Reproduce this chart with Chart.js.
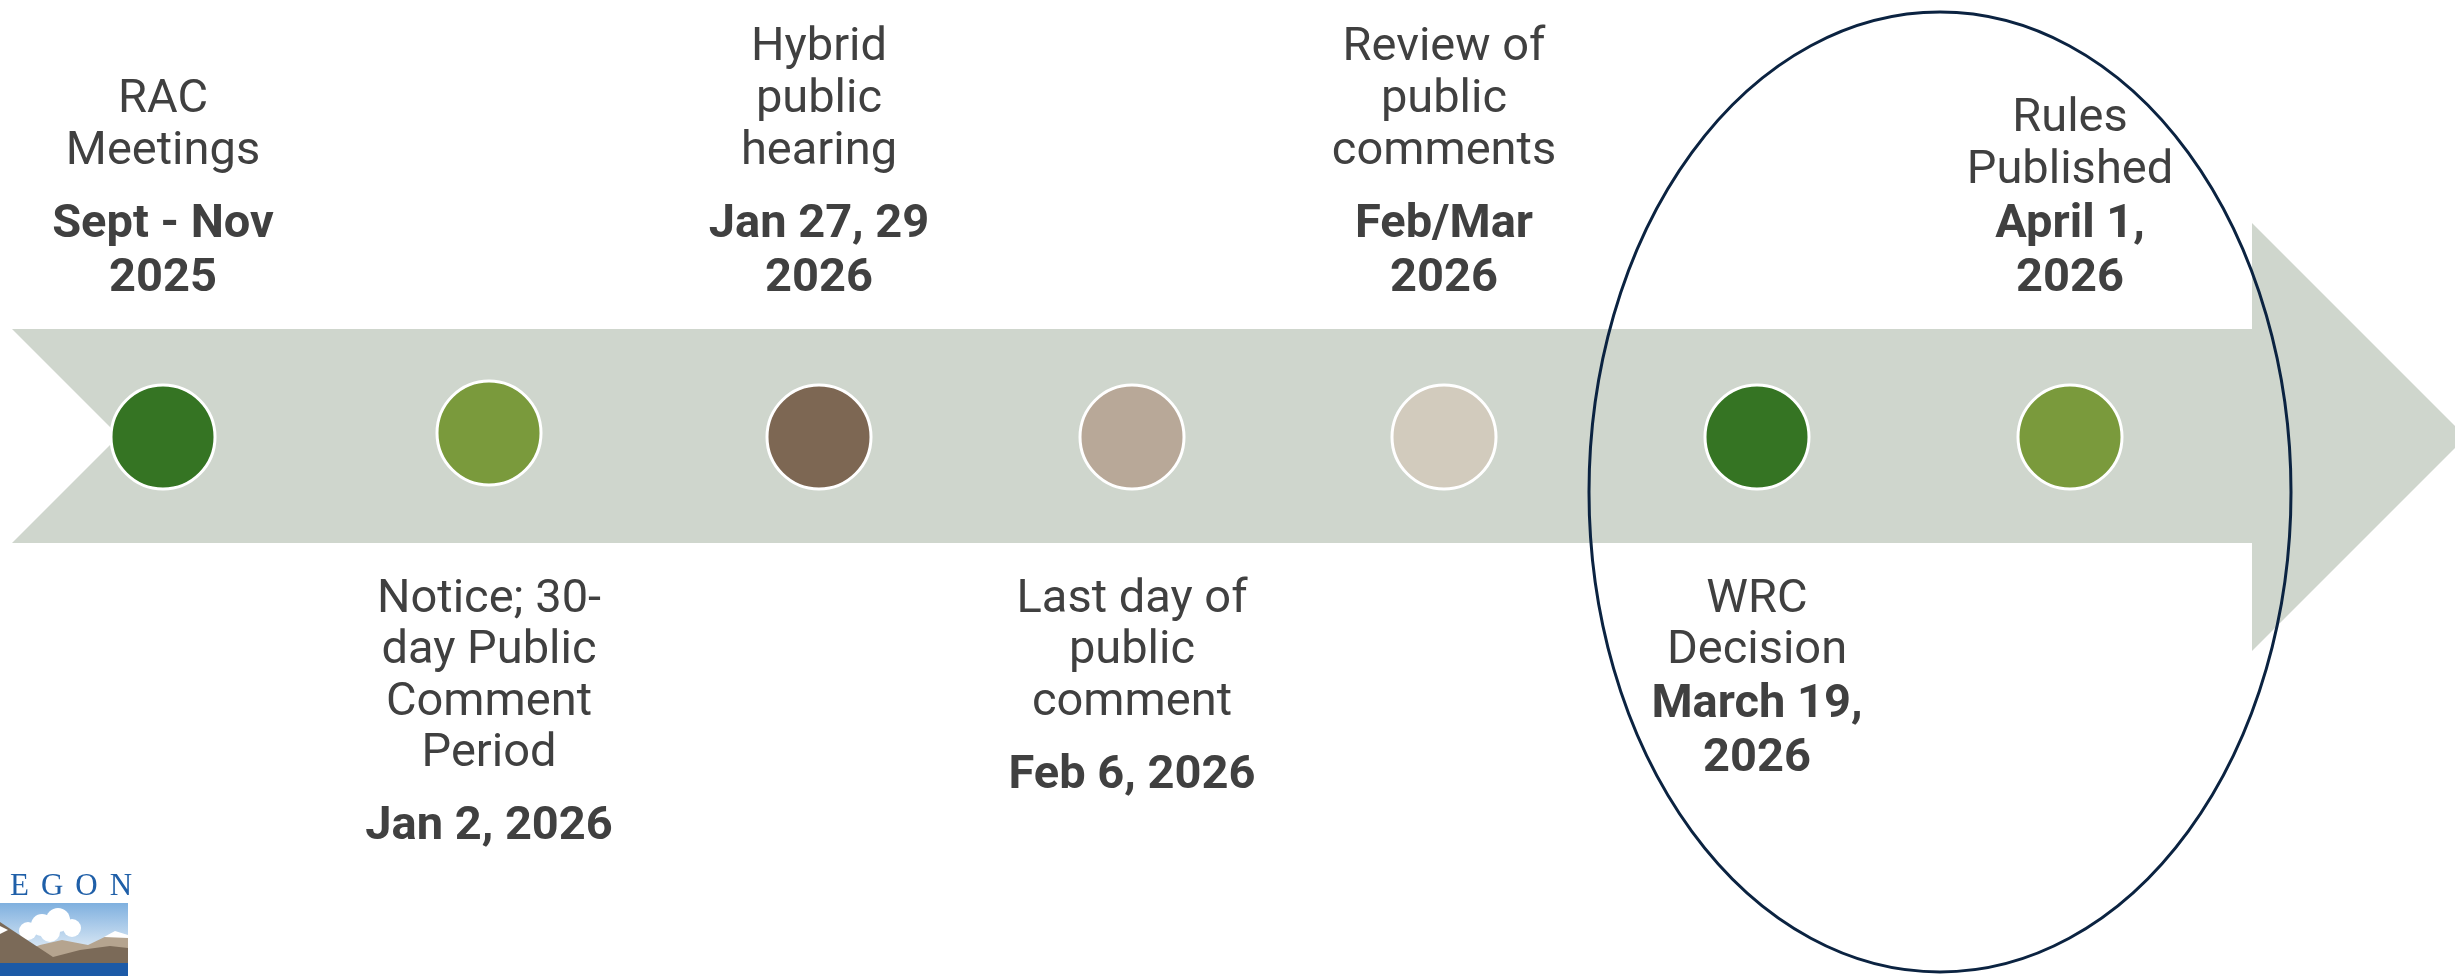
<!DOCTYPE html>
<html>
<head>
<meta charset="utf-8">
<title>Rulemaking timeline</title>
<script src="https://cdn.jsdelivr.net/npm/chart.js@4.4.1/dist/chart.umd.min.js"></script>
<style>
  html, body { margin: 0; padding: 0; background: #fff; overflow: hidden; }
  canvas { display: block; }
</style>
</head>
<body>
<canvas id="timeline" width="2455" height="976"></canvas>
<script>
// milestones, left to right along the arrow
const titles = [
    ['RAC', 'Meetings'],
    ['Notice; 30-', 'day Public', 'Comment', 'Period'],
    ['Hybrid', 'public', 'hearing'],
    ['Last day of', 'public', 'comment'],
    ['Review of', 'public', 'comments'],
    ['WRC', 'Decision'],
    ['Rules', 'Published']
];
const dates = [
    ['Sept - Nov', '2025'],
    ['Jan 2, 2026'],
    ['Jan 27, 29', '2026'],
    ['Feb 6, 2026'],
    ['Feb/Mar', '2026'],
    ['March 19,', '2026'],
    ['April 1,', '2026']
];
const sides = ['top', 'bottom', 'top', 'bottom', 'top', 'bottom', 'top'];
const stepX = [163, 489, 819, 1132, 1444, 1757, 2070];
const stepY = [437, 433, 437, 437, 437, 437, 437];
const dotColors = ['#357423', '#7a9a3c', '#7d6753', '#b8a898', '#d2cbbd', '#357423', '#7a9a3c'];

// arrow outline
const arrowX = [12, 2252, 2252, 2466, 2252, 2252, 12, 119];
const arrowY = [329, 329, 223, 437, 651, 543, 543, 436];

// steps inside the ellipse sit tighter against their date
const tight = [false, false, false, false, false, true, true];
const W = 2455, H = 976;
const LINE_H = 52;
const TEXT = '#404040';
const FONT = 'Roboto, "Liberation Sans", sans-serif';

const labelsPlugin = {
    id: 'labels',
    afterDatasetsDraw(chart) {
        const ctx = chart.ctx;
        const x = chart.scales.x, y = chart.scales.y;
        ctx.save();
        ctx.fillStyle = TEXT;
        ctx.textAlign = 'center';
        ctx.textBaseline = 'middle';
        stepX.forEach((sx, i) => {
            const px = x.getPixelForValue(sx);
            const gap = tight[i] ? 54 : 73;
            let titleYs = [], dateYs = [];
            if (sides[i] === 'top') {
                dates[i].forEach((d, k) => dateYs.push(225 + k * 54));
                const last = 225 - gap;
                titles[i].forEach((t, k) => titleYs.push(last - (titles[i].length - 1 - k) * LINE_H));
            } else {
                titles[i].forEach((t, k) => titleYs.push(600 + k * 51.5));
                const first = titleYs[titleYs.length - 1] + gap;
                dates[i].forEach((d, k) => dateYs.push(first + k * 54));
            }
            ctx.font = '47px ' + FONT;
            titles[i].forEach((t, k) => ctx.fillText(t, px, y.getPixelForValue(titleYs[k])));
            ctx.font = 'bold 47px ' + FONT;
            dates[i].forEach((d, k) => ctx.fillText(d, px, y.getPixelForValue(dateYs[k])));
        });
        ctx.restore();
    }
};

// navy ellipse around the last two steps
const ellipsePlugin = {
    id: 'ellipse',
    afterDatasetsDraw(chart) {
        const ctx = chart.ctx;
        const x = chart.scales.x, y = chart.scales.y;
        const cx = x.getPixelForValue(1940), cy = y.getPixelForValue(492);
        const rx = x.getPixelForValue(1940 + 351) - cx;
        const ry = y.getPixelForValue(492 + 480) - cy;
        ctx.save();
        ctx.strokeStyle = '#0b2341';
        ctx.lineWidth = 3;
        ctx.beginPath();
        ctx.ellipse(cx, cy, Math.abs(rx), Math.abs(ry), 0, 0, Math.PI * 2);
        ctx.stroke();
        ctx.restore();
    }
};

// cropped state logo, bottom left
const logoPlugin = {
    id: 'logo',
    afterDraw(chart) {
        const ctx = chart.ctx;
        ctx.save();
        // picture box
        ctx.beginPath();
        ctx.rect(0, 903, 128, 73);
        ctx.clip();
        const sky = ctx.createLinearGradient(0, 903, 0, 950);
        sky.addColorStop(0, '#7fb0df');
        sky.addColorStop(1, '#dce9f5');
        ctx.fillStyle = sky;
        ctx.fillRect(0, 903, 128, 73);
        ctx.fillStyle = '#ffffff';
        [[28, 931, 9], [42, 925, 11], [58, 920, 12], [72, 928, 9], [50, 932, 10]].forEach(c => {
            ctx.beginPath();
            ctx.arc(c[0], c[1], c[2], 0, Math.PI * 2);
            ctx.fill();
        });
        ctx.fillStyle = '#b5a48f';
        ctx.beginPath();
        ctx.moveTo(0, 960); ctx.lineTo(40, 945); ctx.lineTo(62, 940); ctx.lineTo(88, 945);
        ctx.lineTo(115, 932); ctx.lineTo(128, 936); ctx.lineTo(128, 963); ctx.lineTo(0, 963);
        ctx.closePath(); ctx.fill();
        ctx.fillStyle = '#ffffff';
        ctx.beginPath();
        ctx.moveTo(104, 937); ctx.lineTo(115, 931); ctx.lineTo(128, 935); ctx.lineTo(128, 938);
        ctx.closePath(); ctx.fill();
        ctx.fillStyle = '#7b6a58';
        ctx.beginPath();
        ctx.moveTo(0, 922); ctx.lineTo(12, 930); ctx.lineTo(53, 957); ctx.lineTo(80, 950);
        ctx.lineTo(110, 946); ctx.lineTo(128, 948); ctx.lineTo(128, 963); ctx.lineTo(0, 963);
        ctx.closePath(); ctx.fill();
        ctx.fillStyle = '#ffffff';
        ctx.beginPath();
        ctx.moveTo(0, 926); ctx.lineTo(8, 930); ctx.lineTo(0, 934);
        ctx.closePath(); ctx.fill();
        ctx.fillStyle = '#1c5aa7';
        ctx.fillRect(0, 963, 128, 13);
        ctx.restore();

        ctx.save();
        ctx.fillStyle = '#1f5fa8';
        ctx.font = '31px "Liberation Serif", "DejaVu Serif", serif';
        ctx.letterSpacing = '12px';
        ctx.textBaseline = 'alphabetic';
        ctx.textAlign = 'left';
        const lead = ctx.measureText('OR').width;
        ctx.fillText('OREGON', 10 - lead, 895);
        ctx.restore();
    }
};

new Chart(document.getElementById('timeline'), {
    type: 'scatter',
    data: {
        datasets: [
            {
                label: 'Milestones',
                data: stepX.map((v, i) => ({x: v, y: stepY[i]})),
                pointRadius: 52,
                pointHoverRadius: 52,
                pointBackgroundColor: dotColors,
                pointBorderColor: '#ffffff',
                pointBorderWidth: 3,
                pointHoverBorderWidth: 3,
                showLine: false,
                order: 1,
                clip: false
            },
            {
                label: 'Arrow',
                data: arrowX.map((v, i) => ({x: v, y: arrowY[i]})),
                showLine: true,
                fill: 'shape',
                backgroundColor: '#cfd6cd',
                borderWidth: 0,
                pointRadius: 0,
                pointHoverRadius: 0,
                tension: 0,
                order: 2
            }
        ]
    },
    options: {
        responsive: false,
        devicePixelRatio: 1,
        animation: false,
        events: [],
        layout: { padding: 0, autoPadding: false },
        scales: {
            x: { type: 'linear', display: false, min: 0, max: W },
            y: { type: 'linear', display: false, min: 0, max: H, reverse: true }
        },
        plugins: {
            legend: { display: false },
            tooltip: { enabled: false },
            title: { display: false }
        }
    },
    plugins: [labelsPlugin, ellipsePlugin, logoPlugin]
});
</script>
</body>
</html>
